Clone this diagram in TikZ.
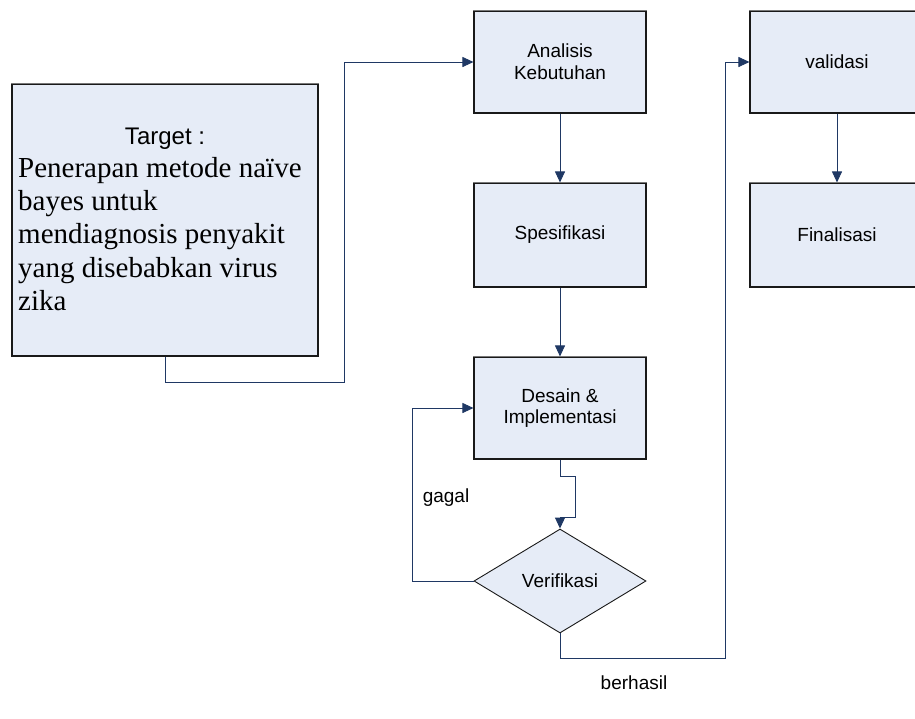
\documentclass[tikz,border=0pt]{standalone}
\usepackage{fontspec}
\setmainfont{Liberation Serif}
\setsansfont{Liberation Sans}
\usetikzlibrary{arrows.meta,shapes.geometric}
\definecolor{boxfill}{RGB}{230,236,247}
\definecolor{conncol}{RGB}{31,56,100}
\definecolor{topedge}{RGB}{120,120,120}
\tikzset{
  box/.style={draw=black!90, line width=1.1pt, fill=boxfill, inner sep=0pt,
    font=\sffamily\fontsize{19}{21.7}\selectfont, align=center},
  conn/.style={draw=conncol, line width=0.9pt, -{Triangle[length=11pt,width=10pt]}},
  topline/.style={draw=topedge, line width=1.1pt},
  lbl/.style={font=\sffamily\fontsize{19}{21.7}\selectfont, inner sep=0pt},
  serifline/.style={font=\rmfamily\fontsize{29}{33.5}\selectfont, inner sep=0pt, anchor=base west}
}
\begin{document}
\begin{tikzpicture}[x={(1pt,0)}, y={(0,-1pt)}]
\useasboundingbox (0,0) rectangle (915,718);
\clip (0,0) rectangle (915,718);
\fill[white] (0,0) rectangle (915,718);

% target box
\node[box, minimum width=306pt, minimum height=272pt] (target) at (165,220) {};
\node[lbl, anchor=base, font=\sffamily\fontsize{24}{28}\selectfont] (tt) at (165,144) {Target :};
\node[serifline] (l1) at (18,177) {Penerapan metode naïve};
\node[serifline] (l2) at (18,210) {bayes untuk};
\node[serifline] (l3) at (18,243) {mendiagnosis penyakit};
\node[serifline] (l4) at (18,277) {yang disebabkan virus};
\node[serifline] (l5) at (18,310) {zika};

% process boxes
\node[box, minimum width=172pt, minimum height=102pt] (ana) at (560,62) {Analisis\\Kebutuhan};
\node[box, minimum width=172pt, minimum height=104pt] (spes) at (560,235) {Spesifikasi};
\node[box, minimum width=172pt, minimum height=102pt] (des) at (560,408) {Desain \&\\Implementasi};
\node[box, diamond, line width=0.9pt, minimum width=172pt, minimum height=104pt] (dia) at (560,581) {Verifikasi};
\node[box, minimum width=174pt, minimum height=102pt] (val) at (837,62) {validasi};
\node[box, minimum width=174pt, minimum height=104pt] (fin) at (837,235) {Finalisasi};

% lighter top edges
\foreach \n in {target,ana,spes,des,val,fin}
  \draw[topline] (\n.north west) -- (\n.north east);

% labels
\node[lbl, anchor=base] (gagal) at (446,502) {gagal};
\node[lbl, anchor=base] (berhasil) at (634,689) {berhasil};

% helper coordinates
\coordinate (c1) at (344,382);
\coordinate (k1) at (575,476);
\coordinate (k2) at (575,517);
\coordinate (g1) at (412,581);
\coordinate (b1) at (725,658);

% connectors
\draw[conn] (target.south) |- (c1) |- (ana.west);
\draw[conn] (ana.south) -- (spes.north);
\draw[conn] (spes.south) -- (des.north);
\draw[conn] (des.south) |- (k1) -- (k2) -| (dia.north);
\draw[conn] (dia.west) -- (g1) |- (des.west);
\draw[conn] (dia.south) |- (b1) |- (val.west);
\draw[conn] (val.south) -- (fin.north);
\end{tikzpicture}
\end{document}
